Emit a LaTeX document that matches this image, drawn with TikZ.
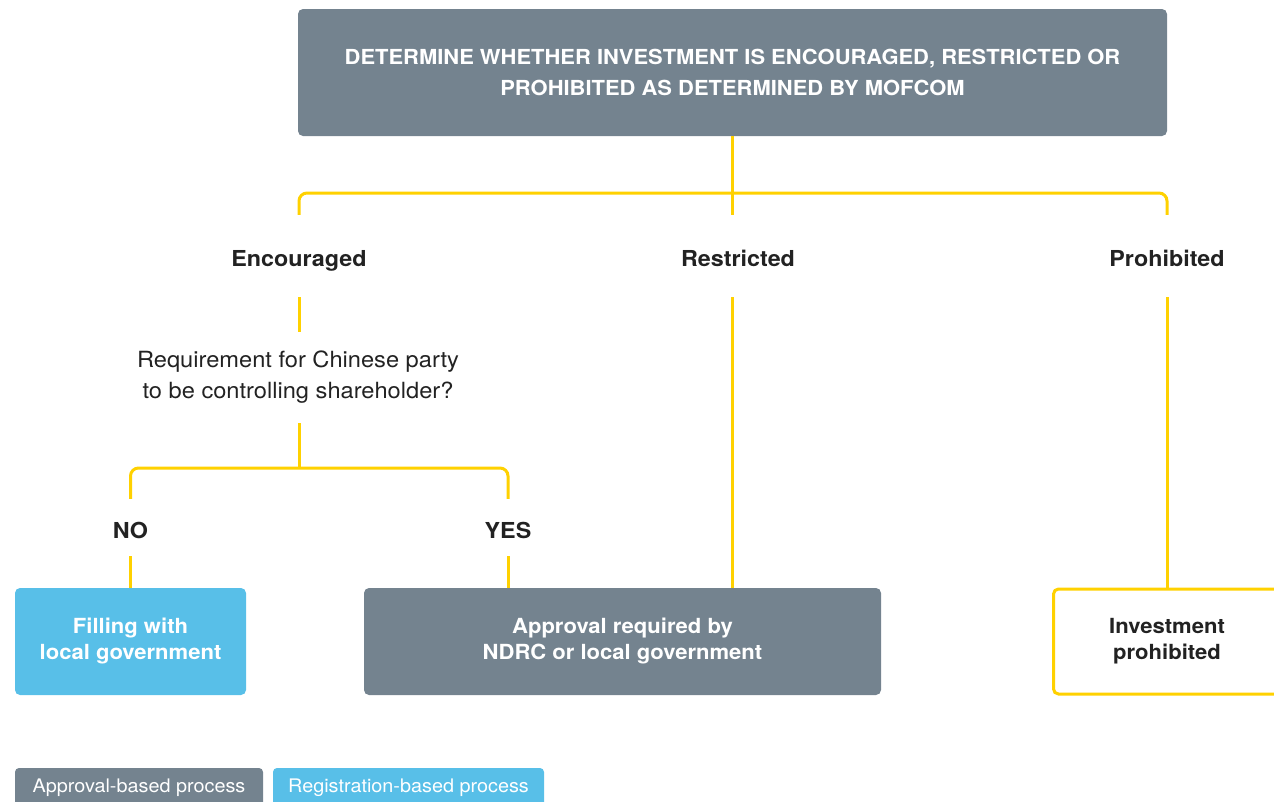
\documentclass[tikz,border=0pt]{standalone}
\usepackage{fontspec}
\setmainfont[FakeStretch=1.06]{TeX Gyre Heros}
\definecolor{slate}{HTML}{74838F}
\definecolor{sky}{HTML}{58BFE8}
\definecolor{gold}{HTML}{FFD100}
\definecolor{ink}{HTML}{222222}
\tikzset{
  box/.style={
    rounded corners=5pt,
    minimum height=107pt,
    inner sep=0pt,
    align=center,
    text=white,
    font=\bfseries\fontsize{20.8}{26}\selectfont
  },
  branch/.style={
    inner sep=0pt,
    align=center,
    text=ink,
    text height=21pt,
    text depth=0pt,
    font=\bfseries\fontsize{22}{31}\selectfont
  },
  query/.style={
    inner sep=0pt,
    align=center,
    text=ink,
    font=\fontsize{22.3}{31}\selectfont
  },
  link/.style={
    draw=gold,
    line width=3pt,
    rounded corners=8pt
  },
  legend/.style={
    rounded corners=4pt,
    minimum height=40pt,
    inner sep=0pt,
    text=white,
    font=\fontsize{18.7}{22}\selectfont
  }
}

\begin{document}
\begin{tikzpicture}[x=1pt,y=-1pt]
    \useasboundingbox (0,0) rectangle (1274,801);
    \clip (0,0) rectangle (1274,801);
    \node[box,fill=slate,minimum width=869pt,minimum height=127pt,
      font=\bfseries\fontsize{20.7}{31}\selectfont] (top) at (732.5,72.5)
      {DETERMINE WHETHER INVESTMENT IS ENCOURAGED, RESTRICTED OR\\PROHIBITED AS DETERMINED BY MOFCOM};
    \coordinate (split) at (732.5,193);
    \node[branch,minimum height=82pt] (enc) at (299,256) {Encouraged};
    \node[branch,minimum height=82pt] (res) at (738,256) {Restricted};
    \node[branch,minimum height=82pt] (pro) at (1167,256) {Prohibited};
    \node[query,minimum height=91pt] (quest) at (298,377.5)
      {Requirement for Chinese party\\to be controlling shareholder?};
    \coordinate (fork) at (299,468);
    \node[branch,minimum height=57pt] (no) at (130.5,527.5) {NO};
    \node[branch,minimum height=57pt] (yes) at (508,527.5) {YES};
    \node[box,fill=sky,minimum width=231pt] (file) at (130.5,641.5)
      {Filling with\\local government};
    \node[box,fill=slate,minimum width=517pt] (appr) at (622.5,641.5)
      {Approval required by\\NDRC or local government};
    \node[box,fill=white,draw=gold,line width=3pt,text=ink,
      minimum width=227pt,minimum height=105pt] (ban) at (1167,641.5)
      {Investment\\prohibited};
    \draw[link] (top.south) -- (top.south |- res.north);
    \draw[link] (enc.north) |- (split) -| (pro.north);
    \draw[link] (res.south -| top.south) -- (top.south |- appr.north);
    \draw[link] (pro.south) -- (ban.north);
    \draw[link] (enc.south) -- (quest.north -| enc.south);
    \draw[link] (quest.south -| fork) -- (fork);
    \draw[link] (no.north) |- (fork) -| (yes.north);
    \draw[link] (no.south) -- (file.north);
    \draw[link] (yes.south) -- (yes.south |- appr.north);
    \node[legend,fill=slate,minimum width=248pt] (lgappr) at (139,788) {Approval-based process};
    \node[legend,fill=sky,minimum width=271pt] (lgreg) at (408.5,788) {Registration-based process};
\end{tikzpicture}
\end{document}
